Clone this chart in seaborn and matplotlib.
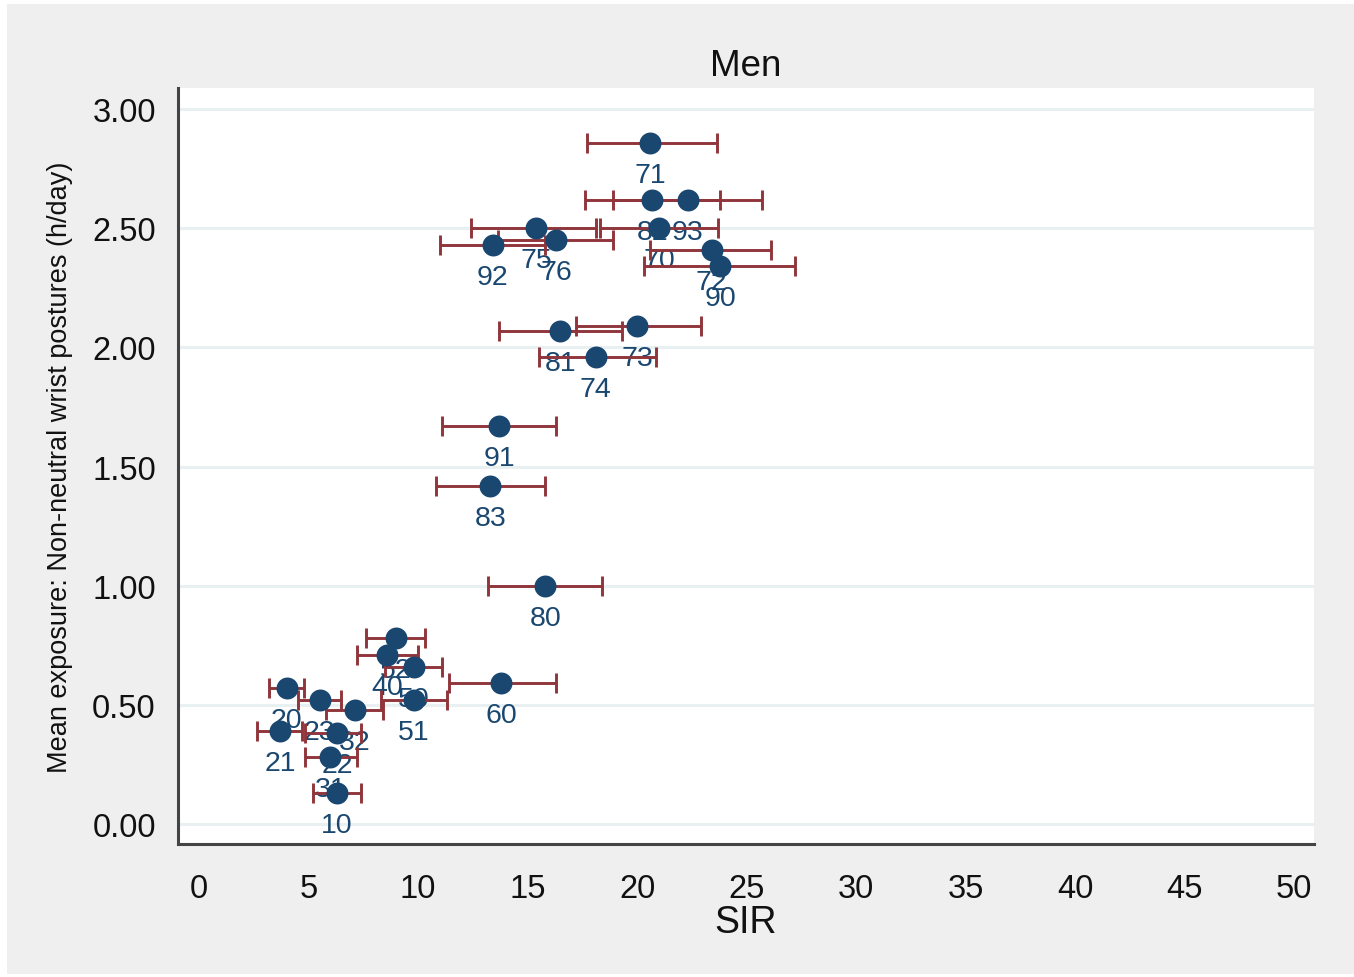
import matplotlib
matplotlib.use("Agg")
import matplotlib.pyplot as plt
import seaborn as sns
import pandas as pd
from matplotlib.patches import Rectangle

labels = ["71", "82", "93", "75", "70", "92", "76", "72", "90", "73", "81", "74", "91", "83",
          "80", "60", "52", "40", "50", "20", "23", "51", "32", "21", "22", "31", "10"]
sir = [20.6, 20.7, 22.3, 15.4, 21.0, 13.4, 16.3, 23.4, 23.8, 20.0, 16.5, 18.1, 13.7, 13.3,
       15.8, 13.8, 9.0, 8.6, 9.8, 4.0, 5.5, 9.8, 7.1, 3.7, 6.3, 6.0, 6.3]
exposure = [2.86, 2.62, 2.62, 2.50, 2.50, 2.43, 2.45, 2.41, 2.34, 2.09, 2.07, 1.96, 1.67, 1.42,
            1.00, 0.59, 0.78, 0.71, 0.66, 0.57, 0.52, 0.52, 0.48, 0.39, 0.38, 0.28, 0.13]
ci_low = [17.7, 17.6, 18.9, 12.4, 18.3, 11.0, 13.65, 20.6, 20.3, 17.2, 13.7, 15.5, 11.1, 10.8,
          13.2, 11.4, 7.6, 7.2, 8.5, 3.2, 4.5, 8.3, 5.8, 2.65, 4.85, 4.85, 5.2]
ci_high = [23.65, 23.8, 25.7, 18.1, 23.7, 15.8, 18.9, 26.1, 27.2, 22.9, 19.3, 20.85, 16.3, 15.8,
           18.4, 16.3, 10.3, 10.0, 11.1, 4.8, 6.5, 11.3, 8.4, 4.7, 7.4, 7.2, 7.4]
x_ticks = [0, 5, 10, 15, 20, 25, 30, 35, 40, 45, 50]
y_ticks = [0.0, 0.5, 1.0, 1.5, 2.0, 2.5, 3.0]

df = pd.DataFrame({"label": labels, "SIR": sir, "exp": exposure, "lo": ci_low, "hi": ci_high})

sns.set_theme(style="white")
plt.rcParams["font.family"] = ["Liberation Sans", "DejaVu Sans"]

NAVY = "#1a476f"
MAROON = "#90353b"
BG = "#efefef"
DARK = "#111111"

fig = plt.figure(figsize=(13.54, 9.78), dpi=100, facecolor="white")
fig.patches.append(Rectangle((7 / 1354, 3 / 978), 1 - 7 / 1354, 1 - 8 / 978,
                             transform=fig.transFigure, facecolor=BG, edgecolor="none", zorder=-10))
ax = fig.add_axes([178 / 1354, 1 - 845 / 978, (1314 - 178) / 1354, (845 - 89) / 978])
ax.set_facecolor("white")

# grid
for yv in y_ticks:
    ax.axhline(yv, color="#e8f0f2", lw=2.2, zorder=0)

# error bars
ax.errorbar(df["SIR"], df["exp"], xerr=[df["SIR"] - df["lo"], df["hi"] - df["SIR"]],
            fmt="none", ecolor=MAROON, elinewidth=2.1, capsize=7.5, capthick=2.1, zorder=3)

sns.scatterplot(data=df, x="SIR", y="exp", ax=ax, color=NAVY, s=250, edgecolor=NAVY,
                linewidth=0, zorder=4, legend=False)

for _, r in df.iterrows():
    ax.annotate(r["label"], (r["SIR"], r["exp"]), xytext=(0, -23), textcoords="offset points",
                ha="center", va="center", fontsize=20.5, color=NAVY, zorder=2)

ax.set_xlim(-0.96, 50.9)
ax.set_ylim(-0.084, 3.089)
ax.set_xticks(x_ticks)
ax.set_xticklabels([str(v) for v in x_ticks])
ax.set_yticks(y_ticks)
ax.set_yticklabels([f"{v:.2f}" for v in y_ticks])
ax.tick_params(axis="both", direction="out", length=11, width=2.0, color="#444444",
               labelsize=23.5, labelcolor=DARK)
ax.tick_params(axis="x", pad=10)
ax.tick_params(axis="y", pad=5)

for s in ["top", "right"]:
    ax.spines[s].set_visible(False)
for s in ["left", "bottom"]:
    ax.spines[s].set_color("#444444")
    ax.spines[s].set_linewidth(2.2)

ax.set_xlabel("SIR", fontsize=27, color=DARK, labelpad=0)
ax.set_ylabel("Mean exposure: Non-neutral wrist postures (h/day)", fontsize=19.5, color=DARK, labelpad=14)
ax.set_title("Men", fontsize=26.5, color=DARK, pad=9)

fig.savefig("out.png", dpi=100, facecolor=fig.get_facecolor())
